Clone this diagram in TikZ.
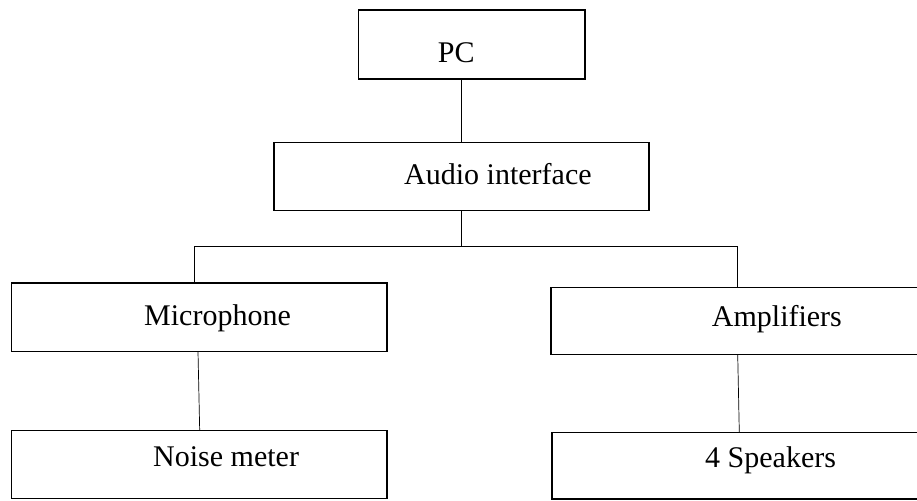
\documentclass[tikz,border=0pt]{standalone}
\usepackage{fontspec}
\setmainfont{Liberation Serif}
\begin{document}
\begin{tikzpicture}[x=1pt,y=-1pt,
  box/.style={draw, line width=1.4pt, inner sep=0pt, outer sep=0pt},
  conn/.style={line width=0.7pt},
  lbl/.style={anchor=base west, inner sep=0pt, font=\fontsize{30}{36}\selectfont}]
\useasboundingbox (0,0) rectangle (917,500);
\clip (0,0) rectangle (917,500);
% boxes
\node[box, minimum width=226.7pt, minimum height=69pt] (pc) at (471.7,44.5) {};
\node[box, minimum width=375pt, minimum height=68pt] (ai) at (461.5,176.7) {};
\node[box, minimum width=375.3pt, minimum height=68.7pt] (mic) at (199.3,317.3) {};
\node[box, minimum width=375.3pt, minimum height=67.6pt] (noise) at (199.3,464.5) {};
\node[box, minimum width=375pt, minimum height=67pt] (amp) at (738.5,320.8) {};
\node[box, minimum width=375pt, minimum height=66.3pt] (spk) at (739.5,465.8) {};
% labels
\node[lbl] (pct) at (437.7,62.3) {PC};
\node[lbl] (ait) at (404,184) {Audio interface};
\node[lbl] (mict) at (144,325) {Microphone};
\node[lbl] (ampt) at (711.7,326.7) {Amplifiers};
\node[lbl] (noiset) at (153,466.7) {Noise meter};
\node[lbl] (spkt) at (705,467) {4 Speakers};
% connectors
\coordinate (busL) at (194.3,246.7);
\coordinate (busR) at (737.7,246.7);
\draw[conn] (ai.north) -- (ai.north |- pc.south);
\draw[conn] (ai.south) -- (ai.south |- busL);
\draw[conn] (busL) -- (busR);
\draw[conn] (busL) -- (busL |- mic.north);
\draw[conn] (busR) -- (busR |- amp.north);
\draw[conn] ([xshift=-1.3pt]mic.south) -- ([xshift=0.4pt]noise.north);
\draw[conn] ([xshift=-0.8pt]amp.south) -- ([xshift=-0.2pt]spk.north);
\end{tikzpicture}
\end{document}
